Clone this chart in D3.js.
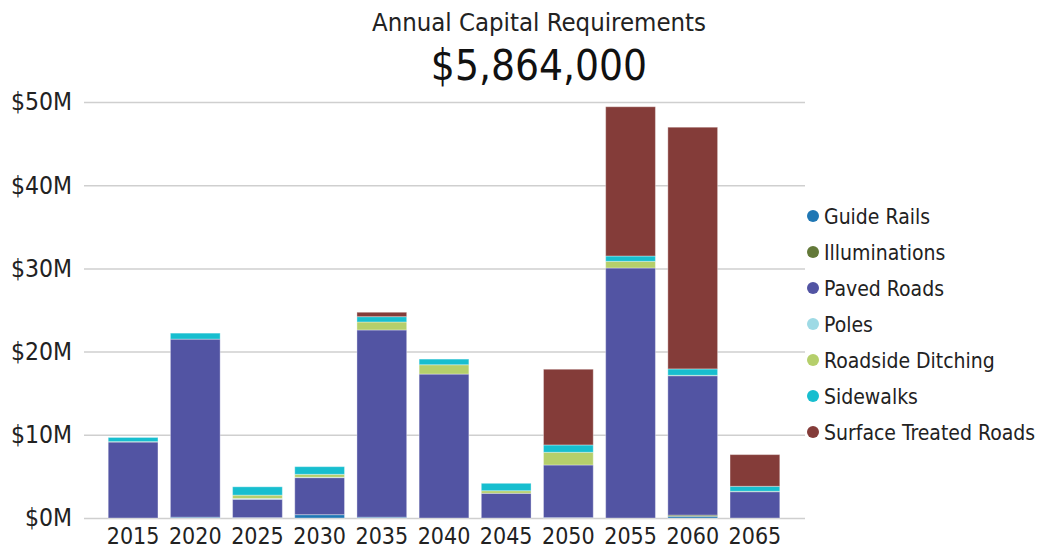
<!DOCTYPE html>
<html>
<head>
<meta charset="utf-8">
<script src="https://cdn.jsdelivr.net/npm/d3@7"></script>
<style>
  html, body { margin: 0; padding: 0; background: #fff; }
  svg { display: block; font-family: "DejaVu Sans Condensed", "DejaVu Sans", sans-serif; font-stretch: condensed; }
</style>
</head>
<body>
<svg id="chart" width="1042" height="552"></svg>
<script>
// Five-year capital requirements by asset class, in millions of dollars
const years = ["2015", "2020", "2025", "2030", "2035", "2040", "2045", "2050", "2055", "2060", "2065"];
const seriesNames = ["Guide Rails", "Illuminations", "Paved Roads", "Poles", "Roadside Ditching", "Sidewalks", "Surface Treated Roads"];
const seriesColors = ["#1f77b4", "#637939", "#5254a3", "#9edae5", "#b5cf6b", "#17becf", "#843c39"];

const guideRails       = [0,    0.1,  0.05, 0.4,  0.1,  0,    0,    0.05, 0,     0.2,   0];
const illuminations    = [0,    0,    0,    0,    0,    0,    0,    0,    0,     0.15,  0];
const pavedRoads       = [9.13, 21.4, 2.2,  4.45, 22.5, 17.3, 2.97, 6.32, 30.05, 16.75, 3.16];
const poles            = [0,    0,    0.1,  0.05, 0,    0,    0,    0,    0,     0,     0];
const roadsideDitching = [0.05, 0,    0.4,  0.35, 0.96, 1.12, 0.31, 1.53, 0.8,   0.05,  0.05];
const sidewalks        = [0.5,  0.72, 1.0,  0.92, 0.64, 0.68, 0.89, 0.88, 0.64,  0.77,  0.6];
const surfaceTreated   = [0,    0,    0,    0,    0.53, 0,    0,    9.1,  17.94, 29.05, 3.81];

const yTicks = [0, 10, 20, 30, 40, 50];
const titleText = "Annual Capital Requirements";
const annualText = "$5,864,000";

const seriesValues = [guideRails, illuminations, pavedRoads, poles, roadsideDitching, sidewalks, surfaceTreated];

// Rows for d3.stack: one object per year
const rows = years.map((yr, i) => {
  const r = { year: yr };
  seriesNames.forEach((name, s) => { r[name] = seriesValues[s][i]; });
  return r;
});

const svg = d3.select("#chart");

const x = d3.scaleBand().domain(years).range([102, 786]).paddingInner(0.2).paddingOuter(0.1);
const y = d3.scaleLinear().domain([0, 50]).range([518, 102]);
const color = d3.scaleOrdinal().domain(seriesNames).range(seriesColors);

// Title
svg.append("text")
  .attr("x", 539).attr("y", 31)
  .attr("text-anchor", "middle")
  .attr("font-size", 25.5)
  .attr("fill", "#222")
  .text(titleText);

svg.append("text")
  .attr("x", 539).attr("y", 80)
  .attr("text-anchor", "middle")
  .attr("font-size", 42)
  .attr("fill", "#111")
  .text(annualText);

// Horizontal gridlines and y labels
const yAxis = d3.axisLeft(y)
  .tickValues(yTicks)
  .tickSize(-(805 - 84))
  .tickPadding(12)
  .tickFormat(d => "$" + d + "M");

const gy = svg.append("g")
  .attr("transform", "translate(84,0)")
  .call(yAxis)
  .attr("font-family", null)
  .attr("font-size", null);
gy.select(".domain").remove();
gy.selectAll(".tick line").attr("stroke", "#cfcfcf").attr("stroke-width", 1.5);
gy.selectAll(".tick text")
  .attr("font-size", 24.5)
  .attr("fill", "#222");

// Stacked bars
const stack = d3.stack().keys(seriesNames);
const layers = stack(rows);

svg.append("g")
  .selectAll("g")
  .data(layers)
  .join("g")
  .attr("fill", d => color(d.key))
  .selectAll("rect")
  .data(d => d)
  .join("rect")
  .attr("x", d => x(d.data.year))
  .attr("width", x.bandwidth())
  .attr("y", d => y(d[1]))
  .attr("height", d => Math.max(0, y(d[0]) - y(d[1])))
  .attr("stroke", "#ffffff")
  .attr("stroke-opacity", 0.35)
  .attr("stroke-width", 1);

// Year labels
const xAxis = d3.axisBottom(x).tickSize(0).tickPadding(10);
const gx = svg.append("g")
  .attr("transform", "translate(0,518)")
  .call(xAxis)
  .attr("font-family", null)
  .attr("font-size", null);
gx.select(".domain").remove();
gx.selectAll(".tick text")
  .attr("font-size", 23)
  .attr("fill", "#222");

// Legend
const legend = svg.append("g").attr("transform", "translate(813,216)");
const item = legend.selectAll("g")
  .data(seriesNames)
  .join("g")
  .attr("transform", (d, i) => `translate(0,${i * 36})`);
item.append("circle")
  .attr("r", 6)
  .attr("fill", d => color(d));
item.append("text")
  .attr("x", 11)
  .attr("dy", "0.36em")
  .attr("font-size", 21)
  .attr("fill", "#222")
  .text(d => d);
</script>
</body>
</html>
